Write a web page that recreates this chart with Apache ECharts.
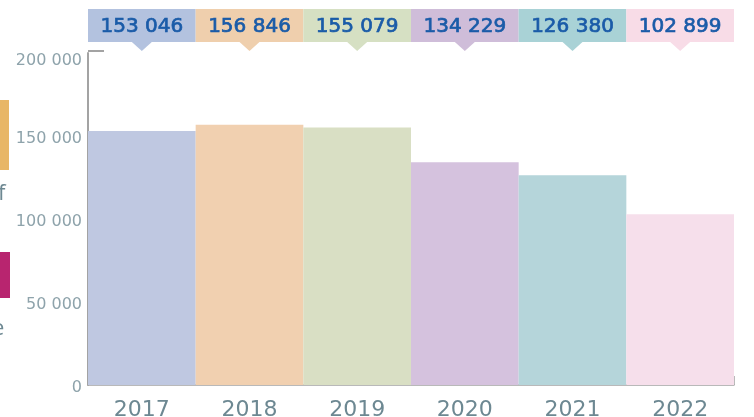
<!DOCTYPE html>
<html>
<head>
<meta charset="utf-8">
<script src="https://cdn.jsdelivr.net/npm/echarts@6/dist/echarts.min.js"></script>
<style>
  html, body { margin: 0; padding: 0; background: #fff; }
  #chart { width: 754px; height: 417px; }
</style>
</head>
<body>
<div id="chart"></div>
<script>
// données
const years = ['2017', '2018', '2019', '2020', '2021', '2022'];
const totals = [153046, 156846, 155079, 134229, 126380, 102899];
const yTicks = [0, 50000, 100000, 150000, 200000];

const barColors = ['#bfc8e1', '#f1d0b0', '#d9dfc4', '#d5c2de', '#b5d5da', '#f6dfeb'];
const boxColors = ['#b3c2df', '#efcfad', '#d6e0c3', '#cfbdd9', '#a9d2d6', '#f8dce7'];

const fmt = v => String(v).replace(/\B(?=(\d{3})+(?!\d))/g, ' ');

const chart = echarts.init(document.getElementById('chart'));

const option = {
  animation: false,
  grid: { left: 88, right: 20, top: 53, bottom: 32, outerBoundsMode: 'none' },
  xAxis: {
    type: 'category',
    data: years,
    axisLine: { lineStyle: { color: '#a3a3a3', width: 1.5 } },
    axisTick: { show: false },
    axisLabel: { color: '#6d8892', fontSize: 22, fontFamily: 'DejaVu Sans', margin: 14 }
  },
  yAxis: {
    type: 'value',
    min: yTicks[0],
    max: yTicks[yTicks.length - 1],
    interval: 50000,
    splitLine: { show: false },
    axisLine: { show: true, lineStyle: { color: '#a3a3a3', width: 2 } },
    axisTick: { show: false },
    axisLabel: {
      margin: 6,
      // le libellé du haut est décalé vers le bas, sous le crochet
      formatter: v => (v === yTicks[yTicks.length - 1] ? '{top|' : '{n|') + fmt(v) + '}',
      rich: {
        top: { color: '#8ea3ab', fontSize: 16, fontFamily: 'DejaVu Sans', padding: [15, 0, 0, 0] },
        n: { color: '#8ea3ab', fontSize: 16, fontFamily: 'DejaVu Sans', padding: [5, 0, 0, 0] }
      }
    }
  },
  graphic: [
    // petit crochet en haut de l'axe y
    { type: 'line', shape: { x1: 88, y1: 51, x2: 104, y2: 51 }, style: { stroke: '#a3a3a3', lineWidth: 2 } },
    { type: 'line', shape: { x1: 734, y1: 376, x2: 734, y2: 385 }, style: { stroke: '#a3a3a3', lineWidth: 1.5 } },
    // restes de la légende coupée à gauche
    { type: 'rect', shape: { x: 0, y: 100, width: 9, height: 70 }, style: { fill: '#e8b666' } },
    { type: 'text', x: -2, y: 183, style: { text: 'f', fill: '#6d8892', fontSize: 22, fontFamily: 'Open Sans' } },
    { type: 'rect', shape: { x: 0, y: 252, width: 10, height: 46 }, style: { fill: '#b8256f' } },
    { type: 'text', x: -8, y: 318, style: { text: 'e', fill: '#6d8892', fontSize: 22, fontFamily: 'Open Sans' } }
  ],
  series: [
    {
      type: 'bar',
      data: totals.map((v, i) => ({ value: v, itemStyle: { color: barColors[i] } })),
      barCategoryGap: 0,
      silent: true
    },
    {
      type: 'custom',
      clip: false,
      silent: true,
      data: totals.map((v, i) => [i, v]),
      encode: { x: 0, y: 1 },
      renderItem: (params, api) => {
        const i = api.value(0);
        const x = api.coord([i, 0])[0];
        const w = api.size([1, 0])[0];
        const c = boxColors[params.dataIndex];
        return {
          type: 'group',
          children: [
            { type: 'rect', shape: { x: x - w / 2, y: 9, width: w, height: 33 }, style: { fill: c } },
            { type: 'polygon', shape: { points: [[x - 10, 42], [x + 10, 42], [x, 51]] }, style: { fill: c } },
            {
              type: 'text',
              style: {
                x: x, y: 27, text: fmt(api.value(1)),
                fill: '#1a5ba8', stroke: '#1a5ba8', lineWidth: 0.7,
                fontSize: 20, fontFamily: 'DejaVu Sans',
                align: 'center', verticalAlign: 'middle'
              }
            }
          ]
        };
      }
    }
  ]
};

chart.setOption(option);
</script>
</body>
</html>
